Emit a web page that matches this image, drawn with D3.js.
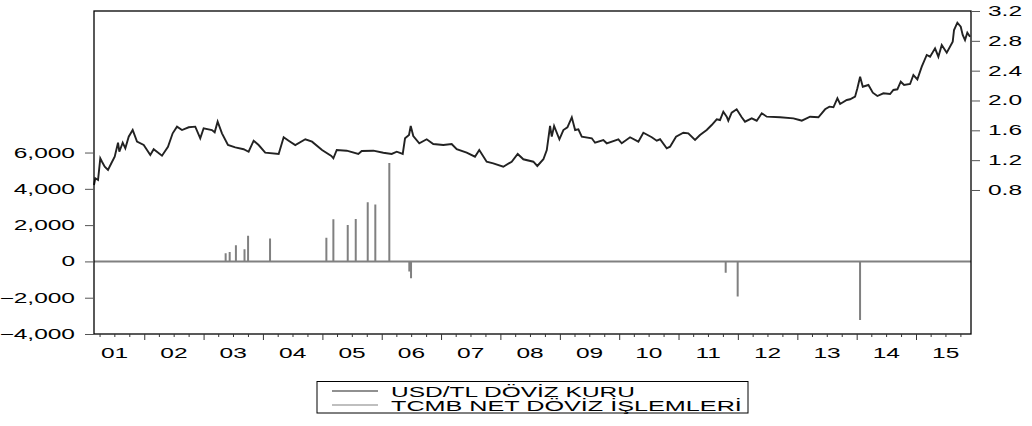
<!DOCTYPE html>
<html>
<head>
<meta charset="utf-8">
<script src="https://cdn.jsdelivr.net/npm/d3@7"></script>
<style>
  body { margin: 0; background: #fff; }
  text { font-family: "Liberation Sans", Arial, sans-serif; font-size: 14px; fill: #000; }
</style>
</head>
<body>
<svg id="chart" width="1032" height="426"></svg>
<script>
// USD/TL rate (dates as decimal years)
const usdDates = [2001.153,2001.175,2001.221,2001.259,2001.288,2001.334,2001.389,2001.445,2001.502,2001.558,2001.580,2001.637,2001.681,2001.738,2001.805,2001.878,2001.991,
  2002.102,2002.159,2002.299,2002.400,2002.479,2002.552,2002.636,2002.749,2002.860,2002.944,2003.001,2003.141,2003.187,2003.237,2003.310,2003.411,2003.534,2003.675,2003.759,2003.844,2003.928,
  2004.039,2004.265,2004.349,2004.433,2004.544,2004.713,2004.826,2004.994,2005.151,2005.185,2005.242,2005.410,2005.606,2005.663,2005.859,2006.027,2006.168,2006.253,2006.354,2006.393,2006.460,2006.489,2006.532,2006.633,2006.758,2006.869,
  2007.038,2007.179,2007.264,2007.432,2007.572,2007.644,2007.769,2007.880,2008.049,2008.190,2008.291,2008.386,2008.554,2008.621,2008.723,2008.780,2008.835,2008.864,2008.903,2008.992,
  2009.059,2009.127,2009.201,2009.257,2009.312,2009.369,2009.538,2009.593,2009.733,2009.790,2009.986,2010.043,2010.183,2010.323,2010.407,2010.549,2010.633,2010.689,2010.801,2010.857,2010.958,
  2011.081,2011.165,2011.278,2011.362,2011.475,2011.559,2011.644,2011.699,2011.755,2011.812,2011.839,2011.896,2011.980,2012.065,2012.120,2012.233,2012.317,2012.402,2012.486,2012.710,2012.934,
  2013.035,2013.075,2013.215,2013.355,2013.468,2013.540,2013.608,2013.675,2013.721,2013.833,2013.889,2013.973,2014.012,2014.058,2014.103,2014.198,2014.272,2014.349,2014.450,2014.563,2014.619,2014.686,2014.743,2014.799,2014.900,2014.956,
  2015.023,2015.097,2015.181,2015.237,2015.321,2015.377,2015.434,2015.518,2015.619,2015.641,2015.697,2015.754,2015.787,2015.826,2015.865,2015.911];
const usdRates = [0.867,0.957,0.934,1.225,1.179,1.112,1.068,1.158,1.246,1.434,1.313,1.434,1.359,1.515,1.604,1.448,1.403,
  1.269,1.346,1.260,1.380,1.560,1.649,1.604,1.641,1.649,1.493,1.627,1.604,1.574,1.716,1.560,1.403,1.372,1.346,1.313,1.461,1.403,
  1.300,1.283,1.507,1.461,1.403,1.480,1.448,1.336,1.256,1.225,1.336,1.327,1.283,1.323,1.327,1.300,1.283,1.313,1.283,1.493,1.537,1.658,1.524,1.426,1.480,1.417,
  1.403,1.417,1.346,1.300,1.246,1.336,1.179,1.158,1.112,1.179,1.283,1.212,1.179,1.122,1.212,1.336,1.658,1.515,1.658,1.480,
  1.604,1.641,1.775,1.604,1.614,1.515,1.493,1.434,1.470,1.426,1.480,1.426,1.507,1.448,1.568,1.507,1.461,1.480,1.359,1.380,1.515,
  1.568,1.560,1.470,1.537,1.604,1.671,1.748,1.738,1.850,1.783,1.729,1.836,1.882,1.775,1.716,1.761,1.729,1.828,1.783,1.775,1.761,
  1.738,1.729,1.783,1.775,1.882,1.917,1.909,2.029,1.953,2.007,2.016,2.051,2.164,2.319,2.185,2.208,2.105,2.060,2.096,2.087,2.141,2.150,2.252,2.208,2.221,2.342,
  2.284,2.453,2.610,2.587,2.700,2.587,2.744,2.641,2.788,2.945,3.043,2.989,2.878,2.811,2.909,2.855];

// TCMB net FX operations (million USD), zero on other days
const tcmbDates = [2003.372,2003.440,2003.545,2003.690,2003.750,2004.120,2005.067,2005.185,2005.427,2005.562,2005.764,2005.892,2006.128,2006.465,2006.494,2011.795,2011.997,2014.057];
const tcmbAmounts = [450,520,890,670,1410,1260,1300,2330,2010,2340,3260,3130,5420,-560,-930,-620,-1940,-3230];

const leftTicks = [-4000,-2000,0,2000,4000,6000];
const rightTicks = [0.8,1.2,1.6,2.0,2.4,2.8,3.2];
const yearLabels = ['01','02','03','04','05','06','07','08','09','10','11','12','13','14','15'];
const seriesNames = ['USD/TL DÖVİZ KURU','TCMB NET DÖVİZ İŞLEMLERİ'];

const sx = 1.75; // text in the original is stretched horizontally

function toDate(y) {
  const yr = Math.floor(y);
  const s = Date.UTC(yr, 0, 1), e = Date.UTC(yr + 1, 0, 1);
  return new Date(s + (y - yr) * (e - s));
}

const plotL = 94, plotR = 971, plotT = 11, plotB = 334;
const svg = d3.select('#chart');

const x = d3.scaleUtc().domain([toDate(2001.153), toDate(2015.927)]).range([plotL, plotR]);
const yL = d3.scaleLinear().domain([-4000, 13800]).range([plotB, plotT]);
const yR = d3.scaleLinear().domain([-1.131, 3.2]).range([plotB, plotT]);

function stretchText(g, tx, ty, str, anchor, k) {
  return g.append('text')
    .attr('transform', `translate(${tx},${ty}) scale(${k || sx},1)`)
    .attr('text-anchor', anchor)
    .text(str);
}

// TCMB series: zero line with spikes
const tcmbPts = [[x.domain()[0], 0]];
tcmbDates.forEach((d, i) => {
  const t = toDate(d);
  tcmbPts.push([t, 0], [t, tcmbAmounts[i]], [t, 0]);
});
tcmbPts.push([x.domain()[1], 0]);

svg.append('path')
  .attr('d', d3.line().x(d => x(d[0])).y(d => yL(d[1]))(tcmbPts))
  .attr('fill', 'none')
  .attr('stroke', '#808080')
  .attr('stroke-width', 2)
  .attr('stroke-linejoin', 'bevel');

// USD/TL line
svg.append('path')
  .datum(usdDates.map((d, i) => [toDate(d), usdRates[i]]))
  .attr('d', d3.line().x(d => x(d[0])).y(d => yR(d[1])))
  .attr('fill', 'none')
  .attr('stroke', '#222')
  .attr('stroke-width', 1.9);

// frame
svg.append('rect')
  .attr('x', plotL).attr('y', plotT)
  .attr('width', plotR - plotL).attr('height', plotB - plotT)
  .attr('fill', 'none').attr('stroke', '#000').attr('stroke-width', 1.3);

// left axis
const gl = svg.append('g').attr('transform', `translate(${plotL},0)`)
  .call(d3.axisLeft(yL).tickValues(leftTicks).tickSize(9).tickFormat(''));
gl.select('.domain').remove();
gl.selectAll('line').attr('stroke', '#555');
leftTicks.forEach(v => stretchText(gl, -19, yL(v) + 5, d3.format(',')(v), 'end'));

// right axis
const gr = svg.append('g').attr('transform', `translate(${plotR},0)`)
  .call(d3.axisRight(yR).tickValues(rightTicks).tickSize(9).tickFormat(''));
gr.select('.domain').remove();
gr.selectAll('line').attr('stroke', '#555');
rightTicks.forEach(v => stretchText(gr, 17, yR(v) + 5, d3.format('.1f')(v), 'start'));

// bottom axis: years and quarters
const years = d3.utcYear.range(toDate(2002), toDate(2016));
const quarters = d3.utcMonth.every(3).range(toDate(2001.2), toDate(2015.93))
  .filter(d => d.getUTCMonth() !== 0);
const gb = svg.append('g').attr('transform', `translate(0,${plotB})`);
gb.append('g').call(d3.axisBottom(x).tickValues(years).tickSize(6).tickFormat(''));
gb.append('g').call(d3.axisBottom(x).tickValues(quarters).tickSize(3).tickFormat(''));
gb.selectAll('.domain').remove();
gb.selectAll('line').attr('stroke', '#333');
yearLabels.forEach((lab, i) => stretchText(svg, x(toDate(2001.5 + i)), 358, lab, 'middle'));

// legend
const lg = svg.append('g');
lg.append('rect').attr('x', 317).attr('y', 381.5).attr('width', 431).attr('height', 31.5)
  .attr('fill', 'none').attr('stroke', '#000').attr('stroke-width', 1);
const legColors = ['#222', '#808080'];
seriesNames.forEach((name, i) => {
  const yy = 391 + i * 14;
  lg.append('line').attr('x1', 332).attr('x2', 378).attr('y1', yy).attr('y2', yy)
    .attr('stroke', legColors[i]).attr('stroke-width', 1.2);
  stretchText(lg, 391, yy + 6, name, 'start', i === 1 ? 1.8 : sx);
});
</script>
</body>
</html>
